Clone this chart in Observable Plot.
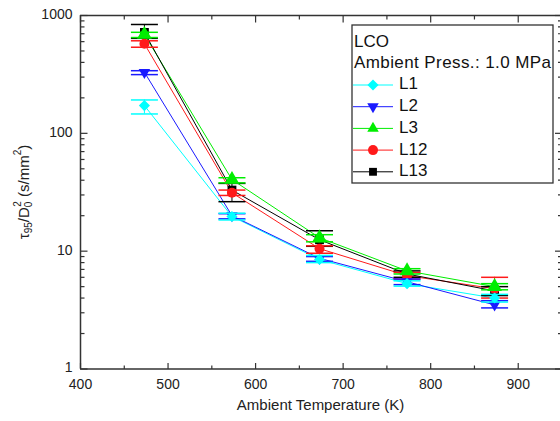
<!DOCTYPE html>
<html>
<head>
<meta charset="utf-8">
<script src="https://cdn.jsdelivr.net/npm/d3@7"></script>
<script src="https://cdn.jsdelivr.net/npm/@observablehq/plot@0.6"></script>
<style>
  body { margin: 0; background: white; }
  #chart { position: relative; width: 560px; height: 421px; }
</style>
</head>
<body>
<div id="chart"></div>
<script>
// ---- data ----
const temps = [473, 573, 673, 773, 873];
const seriesNames = ["L1", "L2", "L3", "L12", "L13"];
const seriesColors = ["#00ffff", "#1a1aff", "#00ee00", "#ff1a1a", "#000000"];
const L1 = [172, 19.7, 8.5, 5.3, 4.0];
const L1lo = [146, 18.4, 8.0, 5.05, 3.7];
const L1hi = [192, 21.0, 9.2, 5.6, 4.3];
const L2 = [330, 20.0, 8.7, 5.5, 3.5];
const L2lo = [315, 18.8, 8.2, 5.2, 3.3];
const L2hi = [340, 20.8, 9.0, 5.8, 3.8];
const L3 = [690, 40.5, 13.0, 6.8, 5.0];
const L3lo = [650, 38.0, 12.0, 6.4, 4.7];
const L3hi = [720, 42.0, 13.8, 7.1, 5.3];
const L12 = [575, 31.3, 10.5, 6.2, 4.8];
const L12lo = [538, 29.7, 9.6, 5.8, 4.0];
const L12hi = [610, 33.0, 11.1, 6.6, 6.0];
const L13 = [718, 33.0, 12.5, 6.4, 4.6];
const L13lo = [640, 26.3, 11.0, 6.0, 4.2];
const L13hi = [839, 37.6, 14.9, 6.8, 5.0];
const xTicks = [400, 500, 600, 700, 800, 900];
const xMinor = [450, 550, 650, 750, 850, 950];
const yTicks = [1, 10, 100, 1000];
const legendTitle = "LCO";
const legendSubtitle = "Ambient Press.: 1.0 MPa";
const xLabel = "Ambient Temperature (K)";

// ---- custom symbols ----
const triDown = {draw(ctx, size) {
  const s = Math.sqrt(size) * 0.6824, t = s / 2, u = s * Math.sqrt(3) / 2;
  ctx.moveTo(0, s); ctx.lineTo(u, -t); ctx.lineTo(-u, -t); ctx.closePath();
}};
const rad = size => Math.sqrt(size / Math.PI);
const hline = {draw(ctx, size) { const r = rad(size); ctx.moveTo(-r, 0); ctx.lineTo(r, 0); }};
const tickUp = {draw(ctx, size) { const r = rad(size); ctx.moveTo(0, 0); ctx.lineTo(0, -r); }};
const tickDown = {draw(ctx, size) { const r = rad(size); ctx.moveTo(0, 0); ctx.lineTo(0, r); }};
const tickRight = {draw(ctx, size) { const r = rad(size); ctx.moveTo(0, 0); ctx.lineTo(r, 0); }};
const tickLeft = {draw(ctx, size) { const r = rad(size); ctx.moveTo(0, 0); ctx.lineTo(-r, 0); }};
const seriesSymbols = ["diamond2", triDown, "triangle", "circle", "square"];

const vals = {L1: [L1, L1lo, L1hi], L2: [L2, L2lo, L2hi], L3: [L3, L3lo, L3hi], L12: [L12, L12lo, L12hi], L13: [L13, L13lo, L13hi]};
const rows = [];
seriesNames.forEach((s, i) => {
  const [v, lo, hi] = vals[s];
  temps.forEach((T, j) => rows.push({series: s, idx: i, T, v: v[j], lo: lo[j], hi: hi[j]}));
});
const drawOrder = seriesNames.slice().reverse();
const yMinor = [];
for (const d of [1, 10, 100]) for (let k = 2; k <= 9; k++) yMinor.push(d * k);

const colorOf = s => seriesColors[seriesNames.indexOf(s)];
const marks = [];
marks.push(Plot.line(rows, {x: "T", y: "v", z: "series", stroke: d => colorOf(d.series), strokeWidth: 1}));
for (const s of drawOrder) {
  const data = rows.filter(d => d.series === s);
  const c = colorOf(s);
  const sym = seriesSymbols[seriesNames.indexOf(s)];
  marks.push(Plot.ruleX(data, {x: "T", y1: "lo", y2: "hi", stroke: c, strokeWidth: 1}));
  marks.push(Plot.dot(data, {x: "T", y: "lo", symbol: hline, r: 13.5, stroke: c, fill: "none", strokeWidth: 1.5}));
  marks.push(Plot.dot(data, {x: "T", y: "hi", symbol: hline, r: 13.5, stroke: c, fill: "none", strokeWidth: 1.5}));
  marks.push(Plot.dot(data, {x: "T", y: "v", symbol: sym, r: s === "L3" || s === "L2" ? 5.5 : 5, fill: c, stroke: "none"}));
}
const frameColor = "#333";
marks.push(Plot.ruleY([1, 1000], {stroke: frameColor, strokeWidth: 1.5}));
marks.push(Plot.ruleX([400, 950], {stroke: frameColor, strokeWidth: 1.5}));
marks.push(Plot.dot(xTicks, {x: d => d, y: 1, symbol: tickUp, r: 6, stroke: frameColor, strokeWidth: 1.2}));
marks.push(Plot.dot(xMinor, {x: d => d, y: 1, symbol: tickUp, r: 3.5, stroke: frameColor, strokeWidth: 1.2}));
marks.push(Plot.dot(xTicks, {x: d => d, y: 1000, symbol: tickDown, r: 7, stroke: frameColor, strokeWidth: 1.2}));
marks.push(Plot.dot(xMinor, {x: d => d, y: 1000, symbol: tickDown, r: 4, stroke: frameColor, strokeWidth: 1.2}));
marks.push(Plot.dot(yTicks, {x: 400, y: d => d, symbol: tickRight, r: 7, stroke: frameColor, strokeWidth: 1.2}));
marks.push(Plot.dot(yMinor, {x: 400, y: d => d, symbol: tickRight, r: 4, stroke: frameColor, strokeWidth: 1.2}));
marks.push(Plot.dot(yTicks, {x: 950, y: d => d, symbol: tickLeft, r: 7, stroke: frameColor, strokeWidth: 1.2}));
marks.push(Plot.dot(yMinor, {x: 950, y: d => d, symbol: tickLeft, r: 4, stroke: frameColor, strokeWidth: 1.2}));
marks.push(Plot.axisY({ticks: yTicks, tickFormat: d3.format("d"), tickSize: 0, tickPadding: 8, fontSize: 14, dy: -1, label: null}));
marks.push(Plot.axisX({ticks: xTicks, tickFormat: d3.format("d"), tickSize: 0, tickPadding: 10, fontSize: 14, label: null}));
marks.push(Plot.text([xLabel], {frameAnchor: "bottom", dy: 41, fontSize: 15, text: d => d}));

const chart = Plot.plot({
  width: 560,
  height: 421,
  marginLeft: 80,
  marginRight: 0,
  marginTop: 15,
  marginBottom: 52.5,
  style: {fontFamily: "'Liberation Sans', Arial, sans-serif", fontSize: "14px", background: "white", color: "#222"},
  x: {domain: [400, 950], range: [80, 561.5]},
  y: {type: "log", domain: [1, 1000], range: [368.5, 15]},
  marks
});
document.getElementById("chart").appendChild(chart);

const svg = d3.select(chart);
const yl = svg.append("text")
  .attr("transform", "translate(25,192) rotate(-90)")
  .attr("text-anchor", "middle")
  .attr("dominant-baseline", "middle")
  .attr("font-size", 15)
  .attr("fill", "#222");
yl.append("tspan").text("τ");
yl.append("tspan").attr("dy", 4).attr("font-size", 10).text("95");
yl.append("tspan").attr("dy", -4).text("/D");
yl.append("tspan").attr("dy", 4).attr("font-size", 10).text("0");
yl.append("tspan").attr("dy", -11).attr("dx", -5).attr("font-size", 10).text("2");
yl.append("tspan").attr("dy", 7).text(" (s/mm");
yl.append("tspan").attr("dy", -7).attr("font-size", 10).text("2");
yl.append("tspan").attr("dy", 7).text(")");

const lg = svg.append("g").attr("font-size", 17).attr("fill", "#111").attr("text-anchor", "start");
lg.append("rect").attr("x", 352).attr("y", 25).attr("width", 201).attr("height", 158)
  .attr("fill", "white").attr("stroke", "#333").attr("stroke-width", 1.3);
lg.append("text").attr("x", 354).attr("y", 43).attr("dominant-baseline", "middle").text(legendTitle);
lg.append("text").attr("x", 354).attr("y", 64).attr("dominant-baseline", "middle").attr("textLength", 197).text(legendSubtitle);
const d3Sym = s => typeof s === "string"
  ? {diamond2: d3.symbolDiamond2, triangle: d3.symbolTriangle2, circle: d3.symbolCircle, square: d3.symbolSquare2}[s]
  : s;
seriesNames.forEach((s, i) => {
  const y = 85 + i * 21.7;
  const c = seriesColors[i];
  lg.append("line").attr("x1", 353).attr("x2", 393).attr("y1", y).attr("y2", y).attr("stroke", c).attr("stroke-width", 1);
  const r = (s === "L3" || s === "L2") ? 5.5 : 5;
  lg.append("path").attr("transform", `translate(373,${y})`)
    .attr("d", d3.symbol(d3Sym(seriesSymbols[i]), r * r * Math.PI)()).attr("fill", c);
  lg.append("text").attr("x", 399).attr("y", y).attr("dominant-baseline", "middle").text(s);
});
</script>
</body>
</html>
